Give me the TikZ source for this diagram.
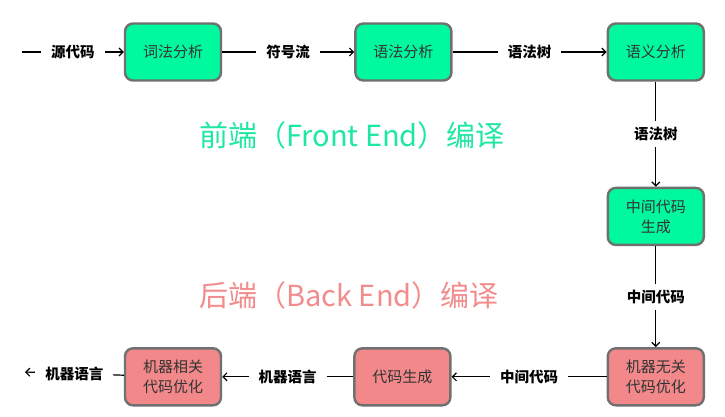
\documentclass[tikz,border=0pt]{standalone}
\usepackage{fontspec}
\setmainfont{Noto Sans CJK SC}
\usetikzlibrary{positioning,arrows.meta}
\definecolor{feGreen}{RGB}{0,248,158}
\definecolor{bePink}{RGB}{242,136,138}
\definecolor{feTitle}{RGB}{30,232,160}
\definecolor{beTitle}{RGB}{242,140,140}
\definecolor{boxLine}{RGB}{112,112,112}

\begin{document}
\begin{tikzpicture}[
  x=1pt, y=1pt, >={Straight Barb[length=4pt,width=8pt]}, line width=1.2pt,
  stage/.style={draw=boxLine,line width=2.4pt,rounded corners=8pt,align=center,minimum width=96pt,minimum height=57pt,font=\fontsize{15}{20}\selectfont,text=black!80},
  fe/.style={stage,fill=feGreen},
  be/.style={stage,fill=bePink},
  lbl/.style={fill=white,inner xsep=10pt,inner ysep=3pt,font=\fontsize{14.5}{16}\selectfont\bfseries},
  vlbl/.style={lbl,inner xsep=3pt,inner ysep=6pt},
  title/.style={font=\fontsize{29}{32}\selectfont}]
\useasboundingbox (0,0) rectangle (725,-416);
% front end
\node[fe] (lex) at (173,-52) {词法分析};
\node[fe,right=132pt of lex] (syn) {语法分析};
\node[fe,right=154pt of syn] (sem) {语义分析};
\node[fe,below=105pt of sem] (ir) {中间代码\\生成};
% back end
\node[be,below=101pt of ir] (opt) {机器无关\\代码优化};
\node[be,left=155pt of opt] (gen) {代码生成};
\node[be,left=131pt of gen] (mopt) {机器相关\\代码优化};
\coordinate (src) at (22,-52);
\coordinate (dst) at (25,-372);
\node[title,text=feTitle] (fetitle) at (352,-135) {前端（Front End）编译};
\node[title,text=beTitle] (betitle) at (349,-295) {后端（Back End）编译};
\draw[->] (src) -- node[lbl]{源代码} (lex);
\draw[->] (lex) -- node[lbl]{符号流} (syn);
\draw[->] (syn) -- node[lbl]{语法树} (sem);
\draw[->] (sem) -- node[vlbl]{语法树} (ir);
\draw[->] (ir) -- node[vlbl]{中间代码} (opt);
\draw[->] (opt) -- node[lbl]{中间代码} (gen);
\draw[->] (gen) -- node[lbl]{机器语言} (mopt);
\draw[->] (mopt) -- node[lbl]{机器语言} (dst);
\end{tikzpicture}
\end{document}
